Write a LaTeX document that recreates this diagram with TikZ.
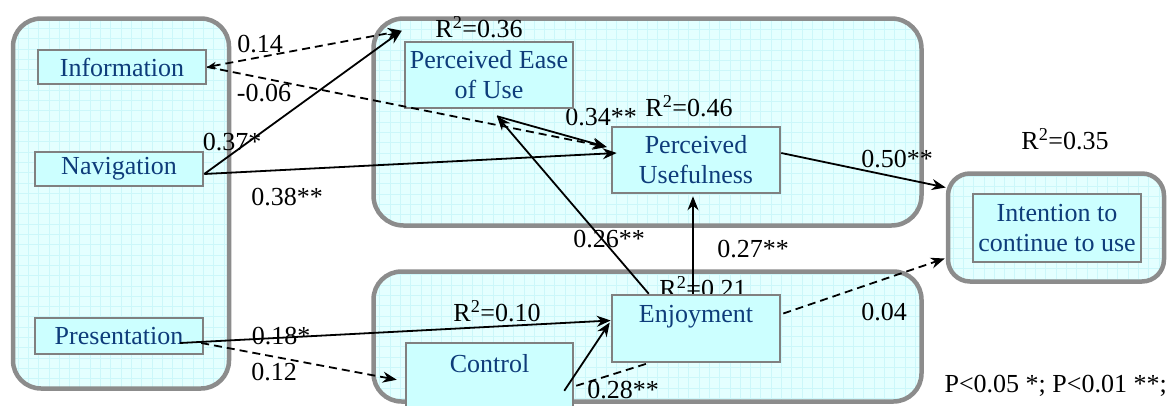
\documentclass[tikz,border=0pt]{standalone}
\usepackage{fontspec}
\setmainfont{Liberation Serif}
\usetikzlibrary{arrows.meta,calc}
\definecolor{groupfill}{RGB}{228,255,255}
\definecolor{gridc}{RGB}{204,247,250}
\definecolor{groupgray}{RGB}{140,140,140}
\definecolor{boxgray}{RGB}{128,128,128}
\definecolor{boxfill}{RGB}{204,255,255}
\definecolor{textblue}{RGB}{14,60,122}
\tikzset{
  every node/.style={font=\fontsize{26}{30}\selectfont, inner sep=0pt},
  group/.style={draw=groupgray, line width=4.5pt, fill=groupfill,
    path picture={\draw[gridc, line width=0.7pt] (path picture bounding box.south west) grid[step=10.3pt] (path picture bounding box.north east);}},
  varbox/.style={draw=boxgray, line width=2.5pt, fill=boxfill, minimum width=168pt,
    align=center, text=textblue},
  lab/.style={text=black},
  conn/.style={line width=1.8pt, -{Stealth[length=14pt,width=11pt]}},
  dconn/.style={conn, dash pattern=on 8pt off 5pt},
}
\begin{document}
\begin{tikzpicture}[x=1pt,y=-1pt]
\useasboundingbox (0,0) rectangle (1168,405);
% groups
\node[group, rounded corners=28pt, minimum width=216pt, minimum height=370pt] (gleft) at (121,203.5) {};
\node[group, rounded corners=30pt, minimum width=548pt, minimum height=207pt] (gtop) at (647.5,122) {};
\node[group, rounded corners=28pt, minimum width=548pt, minimum height=130pt] (gbot) at (647.5,336.5) {};
\node[group, rounded corners=22pt, minimum width=216pt, minimum height=108pt] (gright) at (1056,227.5) {};
% R^2 labels
\node[lab] (r036) at (479,27) {R\textsuperscript{2}=0.36};
\node[lab] (r046) at (689,106) {R\textsuperscript{2}=0.46};
\node[lab] (r035) at (1065,139) {R\textsuperscript{2}=0.35};
\node[lab] (r021) at (703,287) {R\textsuperscript{2}=0.21};
\node[lab] (r010) at (497,311) {R\textsuperscript{2}=0.10};
% path labels
\node[lab] (e014) at (260,44) {0.14};
\node[lab] (em006) at (264,93) {-0.06};
\node[lab] (e037) at (232,142) {0.37*};
\node[lab] (e038) at (287,197) {0.38**};
\node[lab] (e034) at (601,117) {0.34**};
\node[lab] (e050) at (897,159) {0.50**};
\node[lab] (e026) at (609,239) {0.26**};
\node[lab] (e027) at (753,249) {0.27**};
\node[lab] (e004) at (884,312) {0.04};
\node[lab] (e018) at (281,336) {0.18*};
\node[lab] (e012) at (274,372) {0.12};
\node[lab] (e028) at (623,390) {0.28**};
\node[lab, anchor=east] (legend) at (1167,386) {P<0.05 *; P<0.01 **;};
% variable boxes
\node[varbox, minimum height=34pt] (info) at (122,67) {Information};
\node[varbox, minimum height=34pt] (nav) at (119,169) {Navigation};
\node[varbox, minimum height=36pt] (pres) at (119,336) {Presentation};
\node[varbox, minimum height=66pt] (peu) at (489,75) {Perceived Ease\\of Use};
\node[varbox, minimum height=66pt] (pu) at (696,160) {Perceived\\Usefulness};
\node[varbox, minimum height=68pt] (intent) at (1057,228) {Intention to\\continue to use};
\node[varbox, minimum height=67pt] (enj) at (696,328.5) {Enjoyment\\~};
\node[varbox, minimum width=167pt, minimum height=100pt] (ctrl) at (489.5,393) {Control\\~\\~};
% connector end points
\coordinate (peuin) at ($(peu.north west)+(-2,-10)$);
\coordinate (puin) at ($(pu.west)+(-4,-13)$);
\coordinate (peuout) at ($(peu.south)+(8,7)$);
% connectors
\draw[dconn, {Stealth[length=9pt,width=7pt]}-{Stealth[length=14pt,width=11pt]}] (info.east) -- (peuin);
\draw[dconn] (info.east) -- (puin);
\draw[conn] ($(nav.east)+(0,5)$) -- (peuin);
\draw[conn] ($(nav.east)+(0,5)$) -- ($(pu.west)+(6,-7)$);
\draw[conn] (peuout) -- (puin);
\draw[conn] ($(enj.north west)+(38,0)$) -- (peuout);
\draw[conn] ($(enj.north)+(-3,0)$) -- ($(pu.south)+(-3,2)$);
\draw[conn] ($(pu.east)+(0,-7)$) -- ($(gright.west)+(0,-40)$);
\draw[dconn] ($(enj.east)+(2,-15)$) -- ($(gright.west)+(-1,31)$);
\draw[conn] ($(pres.center)+(61,7)$) -- ($(enj.west)+(0,-8)$);
\draw[dconn] ($(pres.east)+(-3,7)$) -- ($(ctrl.north west)+(-8,38)$);
\draw[conn] ($(ctrl.north east)+(-10,49)$) -- ($(enj.west)+(-1,-6)$);
\draw[line width=1.8pt, dash pattern=on 8pt off 5pt] ($(ctrl.north east)+(2,44)$) -- ($(enj.south)+(-48,0)$);
\end{tikzpicture}
\end{document}
